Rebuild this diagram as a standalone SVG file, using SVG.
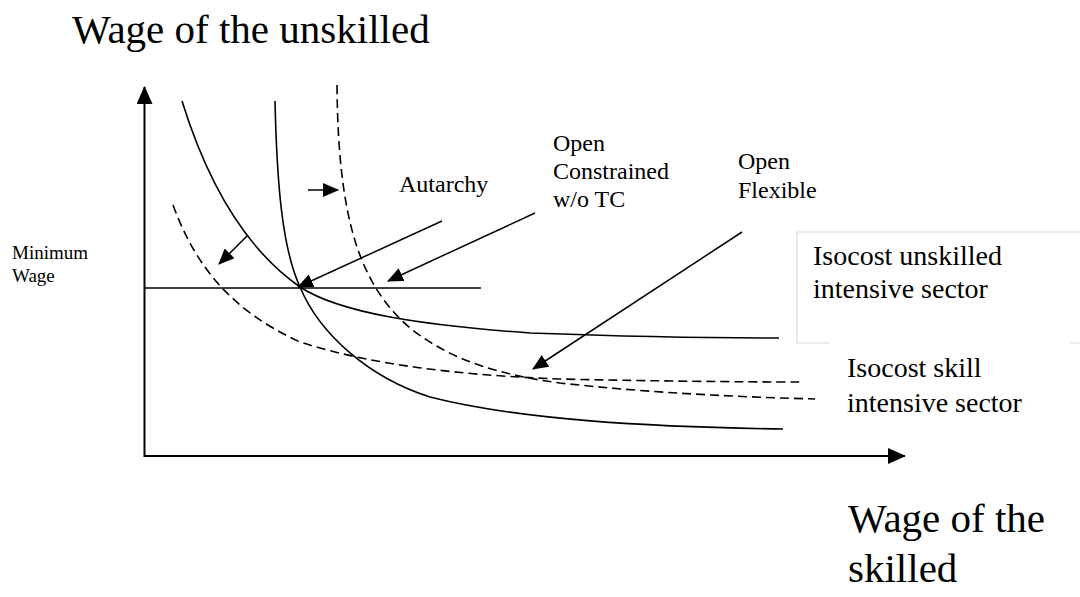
<svg xmlns="http://www.w3.org/2000/svg" width="1080" height="597" viewBox="0 0 1080 597">
<style>
text{font-family:"Liberation Serif","Times New Roman",serif;fill:#000}
.big{font-size:41px}
.mid{font-size:28px}
.lab{font-size:24px}
.sm{font-size:19px}
.axis{stroke:#000;stroke-width:2;fill:none}
.solid{stroke:#000;stroke-width:1.6;fill:none}
.dash{stroke:#000;stroke-width:1.6;fill:none;stroke-dasharray:9 5}
.ptr{stroke:#000;stroke-width:1.5;fill:none;marker-end:url(#ah)}
</style>
<defs>
<marker id="ah" markerWidth="16" markerHeight="14" refX="15" refY="7" orient="auto" markerUnits="userSpaceOnUse"><path d="M0,0 L16,7 L0,14 Z" fill="#000"/></marker>
<marker id="axh" markerWidth="18" markerHeight="16" refX="17" refY="8" orient="auto" markerUnits="userSpaceOnUse"><path d="M0,0 L18,8 L0,16 Z" fill="#000"/></marker>
</defs>
<rect width="1080" height="597" fill="#fff"/>
<g id="axes">
<line class="axis" x1="144.5" y1="457" x2="144.5" y2="87" marker-end="url(#axh)"/>
<line class="axis" x1="144" y1="456" x2="905" y2="456" marker-end="url(#axh)"/>
<line class="solid" x1="145" y1="288" x2="481" y2="288"/>
</g>
<g id="curves">
<path id="isocost-unskilled-a" class="solid" d="M182,101 C205,175 240,245 300,287 C340,313 420,325 530,333 C640,337 720,338 779,338"/>
<path id="isocost-skill-b" class="solid" d="M275,101 C277,190 283,250 300,287 C320,335 370,378 430,397 C520,420 650,427 783,429"/>
<path id="dashed-c" class="dash" d="M337,85 C338,220 360,285 410,328 C450,360 500,375 560,383 C650,393 740,397 815,399"/>
<path id="dashed-d" class="dash" d="M173,205 C195,265 230,310 300,342 C380,368 480,376 560,379 C650,381 740,382 800,382"/>
</g>
<g id="connectors">
<line class="ptr" x1="308" y1="190" x2="338" y2="190"/>
<line class="ptr" x1="248" y1="235" x2="219" y2="264"/>
<line class="ptr" x1="442" y1="221" x2="298" y2="287"/>
<line class="ptr" x1="535" y1="213" x2="388" y2="281"/>
<line class="ptr" x1="742" y1="232" x2="533" y2="369"/>
</g>
<g id="title-y"><text class="big" x="72" y="43">Wage of the unskilled</text></g>
<g id="title-x"><text class="big" x="848" y="532">Wage of the</text><text class="big" x="848" y="582">skilled</text></g>
<g id="min-wage"><text class="sm" x="12" y="259">Minimum</text><text class="sm" x="12" y="282">Wage</text></g>
<g id="autarchy"><text class="lab" x="399" y="192">Autarchy</text></g>
<g id="open-constrained"><text class="lab" x="553" y="151">Open</text><text class="lab" x="553" y="179">Constrained</text><text class="lab" x="553" y="207">w/o TC</text></g>
<g id="open-flexible"><text class="lab" x="738" y="169">Open</text><text class="lab" x="738" y="198">Flexible</text></g>
<g id="isocost-unskilled-box">
<path d="M1080,232 H797 V343 H829 M1070,343 H1080" fill="none" stroke="#d9d9d9" stroke-width="1.2"/>
<text class="mid" x="813" y="265">Isocost unskilled</text><text class="mid" x="813" y="298">intensive sector</text>
</g>
<g id="isocost-skill"><text class="mid" x="847" y="377">Isocost skill</text><text class="mid" x="847" y="412">intensive sector</text></g>
</svg>
